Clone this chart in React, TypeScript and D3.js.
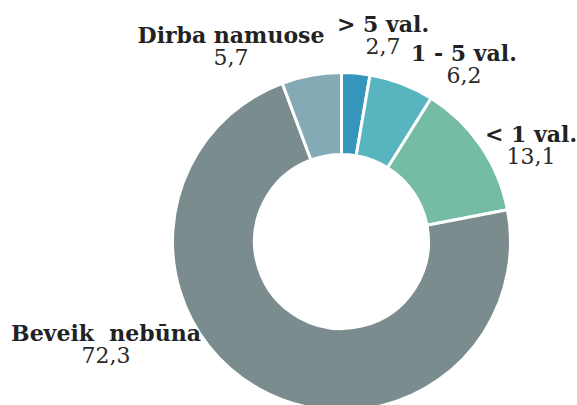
import React from "react";
import * as d3 from "d3";

const categories = ["> 5 val.", "1 - 5 val.", "< 1 val.", "Beveik  nebūna", "Dirba namuose"];
const values = [2.7, 6.2, 13.1, 72.3, 5.7];
const valueLabels = ["2,7", "6,2", "13,1", "72,3", "5,7"];
const colors = ["#3595bc", "#58b5c0", "#74bca6", "#7b8c8e", "#84abb5"];

// label anchor points (centre x, baseline of category line)
const labelPos: [number, number][] = [
  [383, 32],
  [464, 61],
  [531, 142],
  [106, 341],
  [231, 43],
];

const W = 577;
const H = 405;
const cx = 341.5;
const cy = 241.5;
const outerR = 169;
const innerR = 87;

export default function App() {
  const pie = d3
    .pie<number>()
    .sort(null)
    .value((d) => d)
    .startAngle(0)
    .endAngle(2 * Math.PI);
  const arcs = pie(values);
  const arcGen = d3.arc<d3.PieArcDatum<number>>().innerRadius(innerR).outerRadius(outerR);

  return (
    <svg
      width={W}
      height={H}
      style={{ position: "absolute", left: 0, top: 0, display: "block" }}
      fontFamily="'DejaVu Serif', 'Liberation Serif', serif"
    >
      <rect width={W} height={H} fill="#ffffff" />
      <g transform={`translate(${cx},${cy})`}>
        {arcs.map((a, i) => (
          <path key={i} d={arcGen(a) || ""} fill={colors[i]} stroke="#ffffff" strokeWidth={3} strokeLinejoin="round" />
        ))}
      </g>
      {categories.map((c, i) => (
        <g key={c}>
          <text
            x={labelPos[i][0]}
            y={labelPos[i][1]}
            textAnchor="middle"
            fontSize={22}
            fontWeight="bold"
            fill="#222222"
            style={{ whiteSpace: "pre" }}
          >
            {c}
          </text>
          <text
            x={labelPos[i][0]}
            y={labelPos[i][1] + 22}
            textAnchor="middle"
            fontSize={22}
            fill="#2a2a2a"
          >
            {valueLabels[i]}
          </text>
        </g>
      ))}
    </svg>
  );
}
